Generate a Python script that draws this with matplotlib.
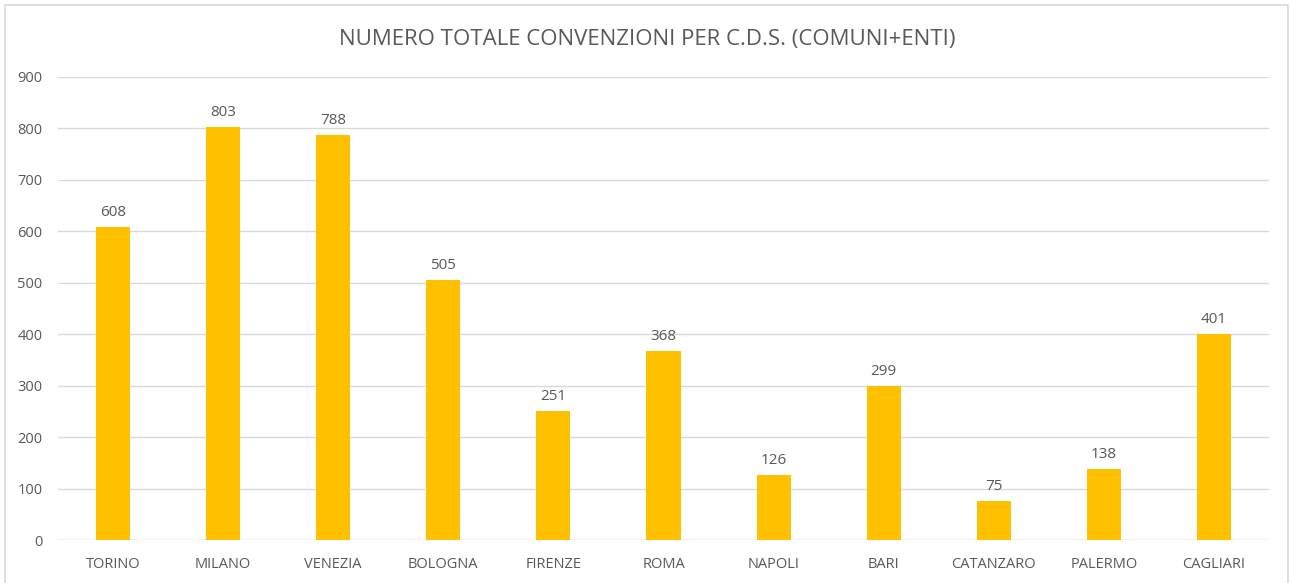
import matplotlib
matplotlib.use("Agg")
import matplotlib.pyplot as plt
from matplotlib.patches import Rectangle

categories = ["TORINO", "MILANO", "VENEZIA", "BOLOGNA", "FIRENZE", "ROMA",
              "NAPOLI", "BARI", "CATANZARO", "PALERMO", "CAGLIARI"]
values = [608, 803, 788, 505, 251, 368, 126, 299, 75, 138, 401]
yticks = [0, 100, 200, 300, 400, 500, 600, 700, 800, 900]
title = "NUMERO TOTALE CONVENZIONI PER C.D.S. (COMUNI+ENTI)"

plt.rcParams['font.family'] = ['Open Sans', 'DejaVu Sans']
text_color = "#595959"
grid_color = "#D9D9D9"

fig = plt.figure(figsize=(12.9, 5.83), dpi=100)
fig.patch.set_facecolor("white")
fig.patches.append(Rectangle((5/1290, -0.01), (1288-5)/1290, 1.01 - 5/583,
                             transform=fig.transFigure, fill=False,
                             edgecolor=grid_color, linewidth=1.2))

ax = fig.add_axes([58/1290, 1 - 540/583, (1269-58)/1290, (540-77)/583])
x = list(range(len(categories)))
bars = ax.bar(x, values, width=0.31, color="#FFC000", zorder=3)
ax.set_xlim(-0.5, len(categories) - 0.5)
ax.set_ylim(0, 900)
ax.set_yticks(yticks)
ax.set_xticks(x)
ax.set_xticklabels(categories)
ax.tick_params(axis='both', length=0, colors=text_color, labelsize=10.5)
ax.tick_params(axis='x', pad=12)
ax.tick_params(axis='y', pad=11)
ax.grid(axis='y', color=grid_color, linewidth=1, zorder=0)
for s in ax.spines.values():
    s.set_visible(False)
ax.axhline(0, color=grid_color, linewidth=1, zorder=2)
for b, v in zip(bars, values):
    ax.annotate(str(v), (b.get_x() + b.get_width()/2, v), xytext=(0, 5),
                textcoords='offset points', ha='center', va='bottom',
                color=text_color, fontsize=11)
fig.text(647/1290, 1 - 40/583, title, ha='center', va='center',
         color=text_color, fontsize=16)
fig.savefig("out.png", dpi=100)
